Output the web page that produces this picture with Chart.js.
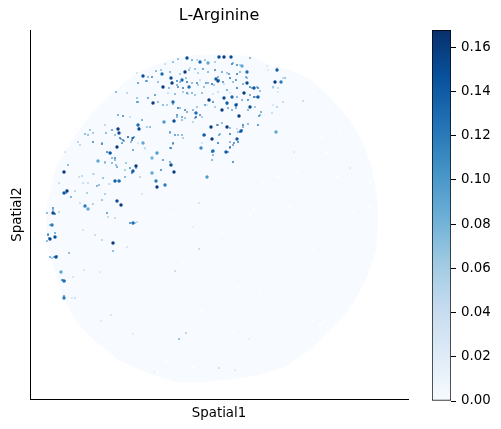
<!DOCTYPE html>
<html>
<head>
<meta charset="utf-8">
<title>L-Arginine</title>
<script src="https://cdn.jsdelivr.net/npm/chart.js@4"></script>
<style>
    html, body { margin: 0; padding: 0; background: #fff; }
    #wrap { position: relative; width: 501px; height: 429px; overflow: hidden; }
    #spatial { position: absolute; left: 0; top: 0; }
    #legend { position: absolute; left: 420px; top: 0; }
</style>
</head>
<body>
<div id="wrap">
    <canvas id="spatial" width="438" height="429"></canvas>
    <canvas id="legend" width="81" height="429"></canvas>
</div>
<script>
// Contorno do tecido
const discX = [46,47,50,55,63,75,90,110,125,140,155,175,195,225,250,270,290,310,330,350,362,371,376,378,378,376,368,358,345,330,310,285,260,233,205,175,150,120,90,75,63,57,50,47];
const discY = [225,205,190,170,155,135,115,95,82,72,65,58,55,54,56,65,70,79,97,120,140,165,190,205,225,250,275,295,315,330,350,367,375,379,382,382,374,361,337,320,297,280,255,240];

// Falhas brancas dentro do tecido
const gapX = [237,253,250,277,313,243,222,238,263,183,278,263,297,173,200,233,285,168,208,313,323,312,293,320,313,330,340,360,353,370,337,277,202,237,260,215,320,325,267,193,165,323,350,370,325,290,327,347,310];
const gapY = [197,210,215,220,250,242,233,287,280,262,177,182,173,215,312,333,304,361,370,320,323,340,350,137,92,107,130,148,213,207,177,177,310,292,293,320,325,320,342,367,362,138,200,183,187,207,153,130,90];

// Pontos grandes
const bigX = [143,162,163,171,172,185,187,182,189,216,218,219,224,231,247,247,275,277,244,254,258,209,224,232,227,236,222,250,239,153,173,196,174,164,138,139,211,227,241,204,212,237,276,201,143,157,213,226,152,118,119,117,110,136,133,64,98,171,174,157,156,165,207,115,119,67,64,117,121,85,88,53,52,133,55,50,113,56,61,64,64,152,200,208,242,281];
const bigY = [76,74,87,78,83,72,58,80,87,79,81,57,57,57,83,72,82,70,93,88,97,100,98,97,103,105,110,107,116,103,102,113,121,122,125,129,127,127,131,135,139,139,132,148,143,153,151,152,158,129,133,147,153,166,171,172,161,165,172,187,181,185,177,181,181,191,193,201,205,206,209,213,225,223,237,239,243,257,272,281,298,173,62,63,66,82];
const bigV = [.15,.13,.16,.15,.16,.16,.15,.13,.13,.14,.15,.15,.16,.15,.15,.13,.16,.14,.16,.14,.14,.16,.15,.13,.14,.15,.16,.15,.16,.16,.13,.13,.15,.10,.13,.15,.16,.16,.14,.14,.16,.14,.09,.11,.09,.10,.13,.14,.08,.16,.15,.16,.14,.16,.14,.16,.09,.15,.16,.16,.12,.12,.10,.14,.13,.16,.14,.15,.16,.12,.09,.15,.12,.13,.15,.15,.16,.15,.09,.13,.12,.09,.13,.09,.09,.12];

// Pontos pequenos
const fineX = [173,165,156,152,146,190,195,192,203,215,222,232,237,229,237,177,187,197,200,206,212,223,230,236,178,183,192,187,168,155,148,137,163,178,185,182,177,196,200,193,205,213,218,227,237,250,258,248,254,261,258,243,240,217,230,219,237,234,230,238,212,218,170,175,182,173,171,145,133,132,150,163,170,212,233,285,278,273,277,272,259,118,123,130,90,85,93,102,106,112,120,123,128,133,122,133,142,107,115,112,105,130,117,125,127,116,138,147,137,148,155,80,65,68,152,138,78,79,93,103,109,87,75,71,102,80,93,107,53,55,59,50,130,137,55,95,102,113,127,50,73,62,64,75,84,100,132,125,140,88,83,199,175,199,193,186,179,219,235,154,249,111,101,133,303,350,294,277,283,233,47,48,47,52,142,105,115,83,161,152];
const fineY = [62,64,71,77,81,68,69,60,69,70,72,64,65,74,74,81,82,83,80,83,84,82,78,80,87,88,93,93,93,95,98,102,105,108,110,117,115,117,115,122,105,102,92,90,88,87,88,100,97,112,125,125,132,125,134,135,129,143,147,142,152,143,132,135,135,143,148,148,150,140,127,160,162,160,162,78,88,87,107,113,116,115,116,117,130,134,142,144,133,130,138,140,137,138,143,150,120,152,158,163,162,168,167,170,93,92,83,81,98,98,95,145,152,165,158,102,142,177,174,178,184,193,191,197,200,203,204,213,208,214,212,225,223,222,233,235,240,251,247,257,277,280,296,298,270,272,173,177,177,183,183,203,271,249,227,333,339,368,370,372,339,315,321,334,101,168,152,107,102,162,213,235,241,258,194,194,218,230,170,173];
const fineV = [.06,.05,.09,.12,.11,.05,.08,.10,.11,.12,.10,.13,.12,.11,.13,.12,.13,.12,.05,.11,.13,.12,.13,.12,.12,.13,.09,.12,.05,.10,.12,.11,.09,.13,.12,.11,.12,.14,.12,.05,.11,.12,.05,.10,.13,.12,.13,.12,.14,.10,.12,.13,.12,.11,.13,.10,.05,.12,.13,.12,.11,.13,.10,.11,.09,.12,.13,.05,.11,.13,.09,.11,.10,.09,.10,.08,.05,.08,.05,.05,.11,.10,.12,.05,.08,.09,.12,.13,.09,.11,.13,.12,.13,.12,.11,.08,.10,.13,.12,.09,.08,.11,.10,.07,.06,.09,.11,.10,.08,.08,.09,.06,.04,.09,.11,.10,.06,.05,.06,.08,.04,.07,.06,.10,.08,.05,.07,.08,.12,.13,.06,.09,.09,.05,.10,.05,.06,.09,.04,.10,.04,.12,.11,.05,.04,.03,.12,.09,.06,.05,.05,.04,.05,.05,.02,.06,.08,.05,.03,.02,.02,.04,.03,.03,.05,.03,.03,.05,.05,.10,.09,.12,.09,.07,.04,.07,.05,.04,.12,.09];

// Pontos minúsculos da região superior
const tinyX = [173,178,197,205,215,233,240,250,267,277,137,148,161,170,180,189,198,208,218,227,240,246,268,283,158,177,180,186,192,198,204,208,214,219,224,233,243,252,257,247,169,175,183,188,195,202,213,230,237,242,250,256,260,273,278,158,167,173,180,187,193,197,207,215,227,228,232,237,236,255,248,260,273,177,182,185,195,202,193,222,218,230,243,242,238,248,134,132,139,147,170,178,183,173,170,202,205,220,230,237,233,230,228,212,213,138,145,105,115,121,124,128,133,131,102,111,112,115,105,116,126,132,136,93,88,94,82,99,97,120,110,66,59,53,54,48,49,55,54,57,130,135,107,108,69,63,65,72];
const tinyY = [62,59,60,60,62,63,65,58,66,68,73,77,70,72,74,70,73,72,77,73,72,77,70,78,82,85,82,78,83,85,87,83,85,80,84,82,84,88,87,78,88,94,92,94,95,93,94,93,97,100,95,97,91,88,92,102,105,104,108,112,110,107,105,107,104,108,110,104,108,107,110,115,105,117,120,118,118,117,122,123,125,128,127,130,132,124,137,138,128,127,133,135,138,144,148,143,135,134,142,139,145,148,152,151,155,143,149,125,135,139,141,137,138,142,143,153,158,160,163,165,163,172,168,133,135,174,176,185,186,181,184,193,183,210,213,234,238,237,257,256,223,223,213,217,253,280,281,298];
const tinyV = [.09,.12,.08,.11,.10,.12,.09,.13,.05,.06,.06,.12,.11,.13,.10,.12,.09,.13,.14,.11,.13,.14,.05,.08,.12,.14,.12,.11,.13,.10,.12,.14,.11,.13,.06,.12,.14,.15,.13,.12,.13,.12,.10,.08,.11,.12,.06,.05,.13,.14,.15,.13,.12,.06,.05,.12,.10,.13,.12,.14,.13,.11,.06,.10,.15,.15,.14,.15,.14,.11,.13,.12,.05,.13,.12,.11,.14,.10,.06,.12,.13,.13,.14,.15,.12,.13,.15,.14,.13,.10,.11,.13,.10,.12,.13,.06,.14,.12,.13,.14,.15,.14,.15,.14,.13,.05,.05,.08,.12,.14,.14,.13,.15,.13,.12,.14,.13,.13,.09,.12,.11,.14,.15,.11,.12,.06,.08,.12,.14,.13,.05,.15,.07,.13,.12,.13,.14,.13,.14,.13,.12,.10,.11,.08,.13,.12,.13,.05];

// Barra de cores
const barLimits = [0, 0.1678];
const barTicks = [0, 0.02, 0.04, 0.06, 0.08, 0.10, 0.12, 0.14, 0.16];

const blues = ['#f7fbff', '#deebf7', '#c6dbef', '#9ecae1', '#6baed6', '#4292c6', '#2171b5', '#08519c', '#08306b'];

function toRgb(hex) {
    return [1, 3, 5].map(i => parseInt(hex.slice(i, i + 2), 16));
}

// Converte valor em cor (mapa Blues)
function blueFor(value) {
    const t = Math.min(Math.max(value / barLimits[1], 0), 1) * (blues.length - 1);
    const i = Math.min(Math.floor(t), blues.length - 2);
    const a = toRgb(blues[i]);
    const b = toRgb(blues[i + 1]);
    const mix = a.map((c, k) => Math.round(c + (b[k] - c) * (t - i)));
    return `rgb(${mix[0]},${mix[1]},${mix[2]})`;
}

function toPoints(xs, ys) {
    return xs.map((x, i) => ({ x: x, y: ys[i] }));
}

const font = { family: 'DejaVu Sans', size: 13.33 };

new Chart(document.getElementById('spatial'), {
    type: 'scatter',
    data: {
        datasets: [{
            data: toPoints(discX, discY),
            showLine: true,
            fill: 'shape',
            backgroundColor: '#f7fbff',
            borderWidth: 0,
            pointRadius: 0,
            tension: 0,
            order: 5
        }, {
            data: toPoints(gapX, gapY),
            pointRadius: 1.2,
            borderWidth: 0,
            backgroundColor: '#ffffff',
            order: 4
        }, {
            data: toPoints(fineX, fineY),
            pointRadius: 0.95,
            borderWidth: 0,
            backgroundColor: ctx => blueFor(fineV[ctx.dataIndex]),
            order: 3
        }, {
            data: toPoints(tinyX, tinyY),
            pointRadius: 0.8,
            borderWidth: 0,
            backgroundColor: ctx => blueFor(tinyV[ctx.dataIndex]),
            order: 2
        }, {
            data: toPoints(bigX, bigY),
            pointRadius: 1.7,
            borderWidth: 0,
            backgroundColor: ctx => blueFor(bigV[ctx.dataIndex]),
            order: 1
        }]
    },
    options: {
        responsive: false,
        animation: false,
        layout: { padding: { right: 30 } },
        plugins: {
            legend: { display: false },
            tooltip: { enabled: false },
            title: {
                display: true,
                fullSize: false,
                text: 'L-Arginine',
                color: '#000',
                font: { family: 'DejaVu Sans', size: 16, weight: 'normal', lineHeight: 1 },
                padding: { top: 8, bottom: 6 }
            }
        },
        scales: {
            x: {
                type: 'linear',
                min: 30,
                max: 408,
                grid: { display: false },
                border: { color: '#000', width: 1 },
                ticks: { display: false },
                title: { display: true, text: 'Spatial1', color: '#000', font: font, padding: { top: 4, bottom: 7 } },
                afterFit: axis => { axis.height = 30; }
            },
            y: {
                type: 'linear',
                reverse: true,
                min: 30,
                max: 399,
                grid: { display: false },
                border: { color: '#000', width: 1 },
                ticks: { display: false },
                title: { display: true, text: 'Spatial2', color: '#000', font: font, padding: { top: 10, bottom: 4 } },
                afterFit: axis => { axis.width = 30; }
            }
        }
    }
});

// Barra de cores com o gradiente Blues
new Chart(document.getElementById('legend'), {
    type: 'bar',
    data: {
        labels: ['L-Arginine'],
        datasets: [{
            data: [barLimits],
            barPercentage: 1,
            categoryPercentage: 1,
            borderColor: '#000',
            borderWidth: 1,
            borderSkipped: false,
            backgroundColor: ctx => {
                const area = ctx.chart.chartArea;
                if (!area) return blues[0];
                const gradient = ctx.chart.ctx.createLinearGradient(0, area.bottom, 0, area.top);
                blues.forEach((color, i) => gradient.addColorStop(i / (blues.length - 1), color));
                return gradient;
            }
        }]
    },
    options: {
        responsive: false,
        animation: false,
        layout: { padding: { left: 12, top: 30, bottom: 28 } },
        plugins: { legend: { display: false }, tooltip: { enabled: false } },
        scales: {
            x: { display: false },
            y: {
                position: 'right',
                min: barLimits[0],
                max: barLimits[1],
                afterBuildTicks: axis => { axis.ticks = barTicks.map(v => ({ value: v })); },
                grid: { drawOnChartArea: false, drawTicks: true, tickLength: 5, color: '#000' },
                border: { display: false },
                ticks: {
                    color: '#000',
                    font: font,
                    padding: 5,
                    callback: value => value.toFixed(2)
                },
                afterFit: axis => { axis.width = 50; }
            }
        }
    }
});
</script>
</body>
</html>
